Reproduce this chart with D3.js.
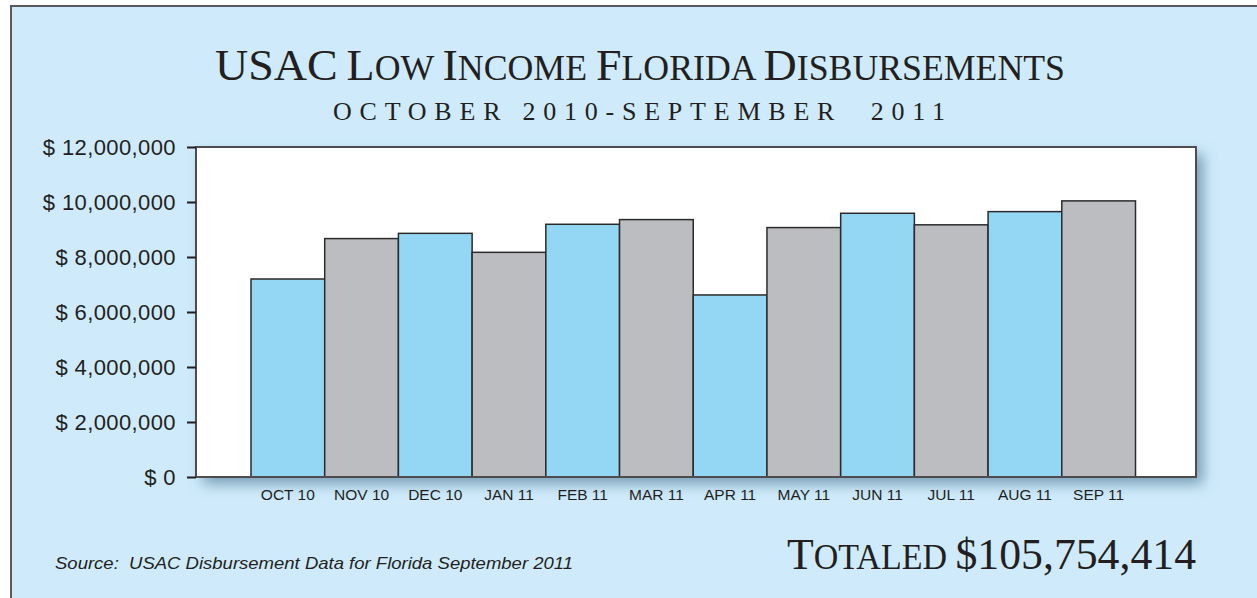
<!DOCTYPE html>
<html>
<head>
<meta charset="utf-8">
<script src="https://cdn.jsdelivr.net/npm/d3@7"></script>
<style>
  html, body { margin: 0; padding: 0; background: #ffffff; }
  svg { display: block; }
</style>
</head>
<body>
<svg id="chart" width="1257" height="598"></svg>
<script>
// data: monthly disbursements (USD)
const months = ["OCT 10", "NOV 10", "DEC 10", "JAN 11", "FEB 11", "MAR 11",
                "APR 11", "MAY 11", "JUN 11", "JUL 11", "AUG 11", "SEP 11"];
const amounts = [7200000, 8670000, 8860000, 8170000, 9190000, 9360000,
                 6620000, 9070000, 9590000, 9170000, 9650000, 10040000];
const yTicks = [0, 2000000, 4000000, 6000000, 8000000, 10000000, 12000000];
const yMax = 12000000;

const titleText = "USAC Low Income Florida Disbursements";
const subtitleText = "OCTOBER 2010-SEPTEMBER  2011";
const totalText = "Totaled $105,754,414";
const sourceText = "Source:  USAC Disbursement Data for Florida September 2011";

const BG = "#cfebfb";
const INK = "#231f20";
const BAR_COLORS = ["#93d7f5", "#bcbdc1"];

const svg = d3.select("#chart");
const W = 1257, H = 598;

const defs = svg.append("defs");
const shadow = defs.append("filter").attr("id", "shadow")
    .attr("x", "-5%").attr("y", "-10%").attr("width", "115%").attr("height", "130%");
shadow.append("feDropShadow")
    .attr("dx", 7).attr("dy", 7).attr("stdDeviation", 7)
    .attr("flood-color", "#3d6a85").attr("flood-opacity", 0.6);

// outer panel (right and bottom edges run off the picture)
svg.append("rect")
    .attr("x", 11).attr("y", 6).attr("width", W + 40).attr("height", H + 40)
    .attr("fill", BG).attr("stroke", "#58595b").attr("stroke-width", 2);

// plot box
const box = { left: 196, top: 147, right: 1196, bottom: 477 };
const x = d3.scaleBand().domain(months).range([251, 1135.5]).padding(0);
const y = d3.scaleLinear().domain([0, yMax]).range([box.bottom, box.top]);

svg.append("rect")
    .attr("x", box.left).attr("y", box.top)
    .attr("width", box.right - box.left).attr("height", box.bottom - box.top)
    .attr("fill", "#ffffff").attr("filter", "url(#shadow)");

// bars
svg.append("g").selectAll("rect")
    .data(amounts).enter().append("rect")
    .attr("x", (d, i) => x(months[i]))
    .attr("y", d => y(d))
    .attr("width", x.bandwidth())
    .attr("height", d => y(0) - y(d))
    .attr("fill", (d, i) => BAR_COLORS[i % 2])
    .attr("stroke", "#2b2b2b").attr("stroke-width", 1.5);

// box border on top of bars
svg.append("rect")
    .attr("x", box.left).attr("y", box.top)
    .attr("width", box.right - box.left).attr("height", box.bottom - box.top)
    .attr("fill", "none").attr("stroke", "#4d4d4f").attr("stroke-width", 2);

// y axis
svg.append("g")
    .attr("transform", `translate(${box.left},0)`)
    .call(d3.axisLeft(y).tickValues(yTicks).tickSize(9).tickPadding(11)
        .tickFormat(d => "$ " + d3.format(",")(d)))
    .call(g => g.select(".domain").remove())
    .call(g => g.selectAll("line").attr("stroke", INK).attr("stroke-width", 2))
    .call(g => g.selectAll("text")
        .attr("fill", INK).attr("font-size", 22)
        .attr("font-family", "'Liberation Sans', Arial, sans-serif")
        .attr("letter-spacing", 0.4).attr("dy", "0.36em"));

// x axis labels
svg.append("g")
    .attr("transform", `translate(0,${box.bottom})`)
    .call(d3.axisBottom(x).tickSize(0).tickPadding(12))
    .call(g => g.select(".domain").remove())
    .call(g => g.selectAll("text")
        .attr("fill", INK).attr("font-size", 15.5)
        .attr("font-family", "'Liberation Sans', Arial, sans-serif"));

// small-caps helper: capitals and digits large, lowercase shown as small capitals
function smallCaps(sel, str, big, small) {
    const runs = [];
    for (const ch of str) {
        const isSmall = ch === " " || (ch !== ch.toUpperCase());
        const last = runs[runs.length - 1];
        if (last && last.small === isSmall) last.t += ch;
        else runs.push({ t: ch, small: isSmall });
    }
    runs.forEach(r => {
        sel.append("tspan")
            .attr("font-size", r.small ? small : big)
            .text(r.t.toUpperCase());
    });
}

const serif = "'Liberation Serif', 'DejaVu Serif', serif";

const title = svg.append("text")
    .attr("x", 215).attr("y", 80)
    .attr("fill", INK).attr("font-family", serif)
    .attr("textLength", 850).attr("lengthAdjust", "spacingAndGlyphs");
smallCaps(title, titleText, 45, 35);

svg.append("text")
    .attr("x", 333).attr("y", 120)
    .attr("fill", INK).attr("font-family", serif).attr("font-size", 26)
    .style("white-space", "pre")
    .attr("textLength", 612).attr("lengthAdjust", "spacing")
    .text(subtitleText);

const total = svg.append("text")
    .attr("x", 787).attr("y", 569)
    .attr("fill", INK).attr("font-family", serif)
    .attr("textLength", 409).attr("lengthAdjust", "spacingAndGlyphs");
smallCaps(total, totalText, 45, 35);

svg.append("text")
    .attr("x", 55).attr("y", 569)
    .attr("fill", INK).attr("font-family", "'Liberation Sans', Arial, sans-serif")
    .attr("font-size", 17).attr("font-style", "italic")
    .style("white-space", "pre")
    .attr("textLength", 518).attr("lengthAdjust", "spacingAndGlyphs")
    .text(sourceText);
</script>
</body>
</html>
